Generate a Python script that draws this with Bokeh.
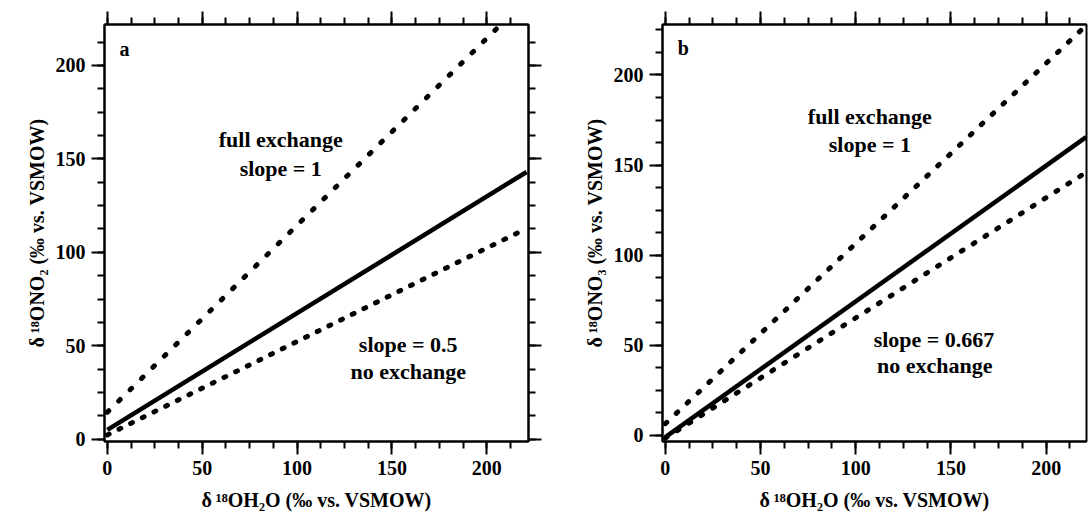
from bokeh.plotting import figure
from bokeh.layouts import row
from bokeh.models import (Range1d, LinearAxis, SingleIntervalTicker, Label,
                          CustomJSTickFormatter)
from bokeh.embed import file_html
from bokeh.resources import INLINE

# ---- data -------------------------------------------------------------
# Line end points, δ18O of water on x (‰ vs. VSMOW)
x_ends = [0, 221]

# Panel a: nitrite
a_full_x = [0, 207.5]          # full exchange, slope = 1
a_full_y = [14.5, 222]
a_mid_y = [5, 143]             # solid line
a_none_y = [2.3, 112.8]        # no exchange, slope = 0.5

# Panel b: nitrate
b_full_x = [0, 221]            # full exchange, slope = 1
b_full_y = [6.5, 227.5]
b_mid_y = [-1, 165.5]          # solid line
b_none_y = [-1.5, 145.9]       # no exchange, slope = 0.667

# Axis ranges
a_xrange = (-1.5, 222)
a_yrange = (-1.2, 221.9)
b_xrange = (-1.5, 221.2)
b_yrange = (-3.4, 228)

tick_interval = 50
minor_per_major = 4

x_title = "δ\u2009¹⁸OH₂O (‰ vs. VSMOW)"
a_y_title = "δ\u2009¹⁸ONO₂ (‰ vs. VSMOW)"
b_y_title = "δ\u2009¹⁸ONO₃ (‰ vs. VSMOW)"

FONT = "Liberation Serif"


def style_axis(ax, labels=True, title_standoff=9):
    ax.ticker = SingleIntervalTicker(interval=tick_interval, num_minor_ticks=minor_per_major)
    ax.axis_line_color = "black"
    ax.axis_line_width = 2
    ax.major_tick_line_color = "black"
    ax.major_tick_line_width = 2
    ax.minor_tick_line_color = "black"
    ax.minor_tick_line_width = 2
    ax.major_tick_in = 0
    ax.major_tick_out = 13
    ax.minor_tick_in = 0
    ax.minor_tick_out = 7
    if labels:
        ax.major_label_text_font = FONT
        ax.major_label_text_font_style = "bold"
        ax.major_label_text_font_size = "20px"
        ax.major_label_text_color = "black"
        ax.major_label_standoff = 6
        ax.axis_label_text_font = FONT
        ax.axis_label_text_font_style = "bold"
        ax.axis_label_text_font_size = "20px"
        ax.axis_label_text_color = "black"
        ax.axis_label_standoff = title_standoff
    else:
        # mirrored ticks only
        ax.formatter = CustomJSTickFormatter(code="return ''")
        ax.major_label_standoff = 0
        ax.axis_label = None


def make_panel(width, left, right, xr, yr, right_axis, ytitle):
    p = figure(width=width, height=514,
               x_range=Range1d(*xr), y_range=Range1d(*yr),
               output_backend="svg", toolbar_location=None,
               min_border_left=left, min_border_right=right,
               min_border_top=24, min_border_bottom=73,
               x_axis_label=x_title, y_axis_label=ytitle)
    p.grid.visible = False
    p.outline_line_color = "black"
    p.outline_line_width = 2
    p.background_fill_color = "white"
    p.border_fill_color = "white"
    style_axis(p.xaxis[0], title_standoff=11)
    style_axis(p.yaxis[0], title_standoff=5)
    top = LinearAxis()
    style_axis(top, labels=False)
    p.add_layout(top, "above")
    if right_axis:
        rt = LinearAxis()
        style_axis(rt, labels=False)
        p.add_layout(rt, "right")
    return p


def text(p, x, y, s, size="22px", style="bold"):
    p.add_layout(Label(x=x, y=y, text=s, text_font=FONT, text_font_style=style,
                       text_font_size=size, text_color="black",
                       text_align="center", text_baseline="middle"))


DOT = dict(line_color="black", line_width=5, line_cap="round")

# ---- panel a ------------------------------------------------------------
pa = make_panel(560, 104, 32, a_xrange, a_yrange, True, a_y_title)
pa.line(a_full_x, a_full_y, line_dash="2 14", **DOT)
pa.line(x_ends, a_none_y, line_dash="2 11", **DOT)
pa.line(x_ends, a_mid_y, line_color="black", line_width=4.5)
text(pa, 9.1, 208.8, "a", size="20px")
text(pa, 91.4, 160.2, "full exchange")
text(pa, 91.4, 145.1, "slope = 1")
text(pa, 158.6, 50.5, "slope = 0.5")
text(pa, 158.6, 36.2, "no exchange")

# ---- panel b ------------------------------------------------------------
pb = make_panel(528, 102, 2, b_xrange, b_yrange, False, b_y_title)
pb.line(b_full_x, b_full_y, line_dash="2 13", **DOT)
pb.line(x_ends, b_none_y, line_dash="2 12", **DOT)
pb.line(x_ends, b_mid_y, line_color="black", line_width=4.5)
text(pb, 9.4, 215.2, "b", size="20px")
text(pb, 107.4, 177.2, "full exchange")
text(pb, 107.4, 161.5, "slope = 1")
text(pb, 141.1, 53.3, "slope = 0.667")
text(pb, 141.5, 38.5, "no exchange")

layout = row(pa, pb)
open("out.html", "w").write(file_html(layout, INLINE))
